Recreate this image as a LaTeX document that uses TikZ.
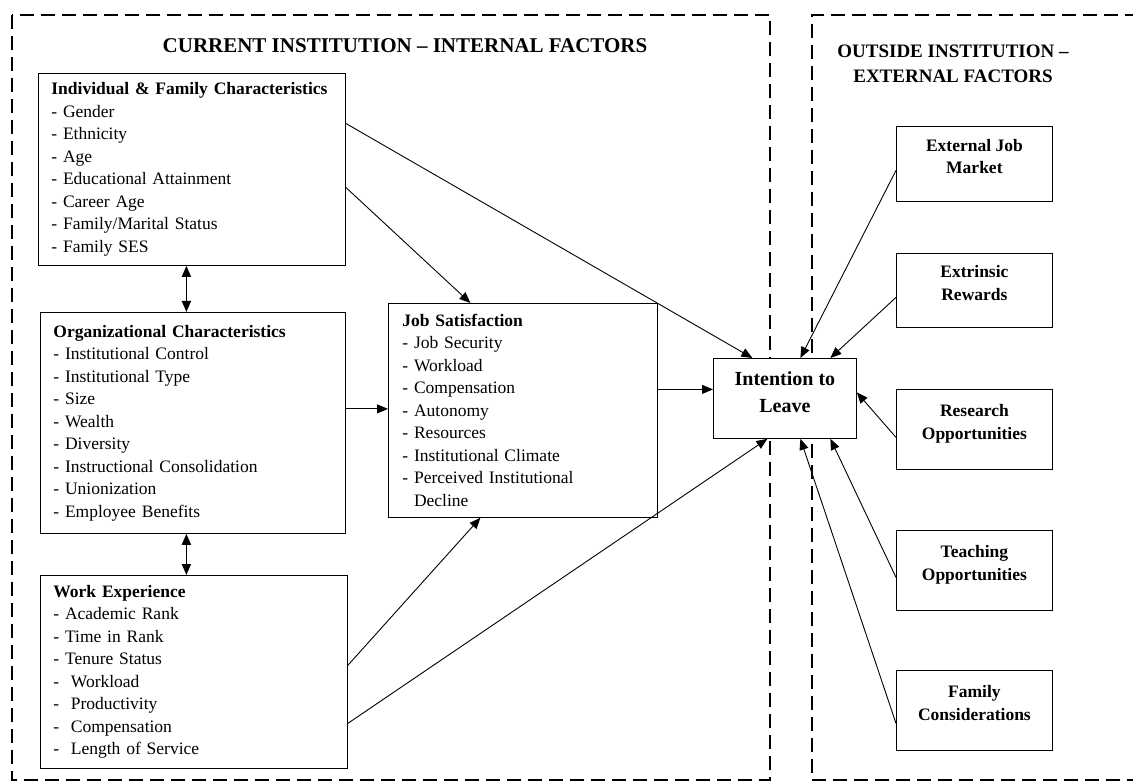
\documentclass[tikz,border=0pt]{standalone}
\usepackage{fontspec}
\setmainfont{Liberation Serif}
\usetikzlibrary{arrows.meta,calc}
\begin{document}
\begin{tikzpicture}[x=1pt,y=-1pt,
  box/.style={draw, line width=0.8pt, inner sep=0pt, font=\fontsize{17.5}{22.5}\selectfont},
  lbox/.style={box, align=left, inner xsep=13pt, anchor=north west},
  ebox/.style={box, align=center, minimum width=156pt, anchor=north west, text depth=15pt, font=\fontsize{17.5}{22.5}\selectfont\bfseries},
  arr/.style={-{Triangle[length=11pt,width=9pt]}, line width=0.9pt},
  darr/.style={{Triangle[length=11pt,width=9pt]}-{Triangle[length=11pt,width=9pt]}, line width=1.8pt},
  frame/.style={line width=2.2pt, dash pattern=on 14pt off 7pt},
  ttl/.style={font=\fontsize{19}{25}\selectfont\bfseries, align=center}]
\useasboundingbox (0,0) rectangle (1133,783);
\fill[white] (0,0) rectangle (1133,783);

% frames
\draw[frame] (12,15) rectangle (770,780);
\draw[frame] (1160,15) -- (812,15) -- (812,780) -- (1160,780);

% titles
\node[ttl, font=\fontsize{21}{25}\selectfont\bfseries] (t1) at (405,46) {CURRENT INSTITUTION \textendash{} INTERNAL FACTORS};
\node[ttl] (t2) at (953,64) {OUTSIDE INSTITUTION \textendash\\EXTERNAL FACTORS};

% left boxes
\node[lbox, text width=281pt, minimum height=192pt] (ind) at (38,73) {\textbf{Individual \& Family Characteristics}\\
- Gender\\- Ethnicity\\- Age\\- Educational Attainment\\- Career Age\\- Family/Marital Status\\- Family SES};
\node[lbox, text width=279pt, minimum height=221pt] (org) at (40,312) {\textbf{Organizational Characteristics}\\
- Institutional Control\\- Institutional Type\\- Size\\- Wealth\\- Diversity\\- Instructional Consolidation\\- Unionization\\- Employee Benefits};
\node[lbox, text width=281pt, minimum height=193pt] (work) at (40,575) {\textbf{Work Experience}\\
- Academic Rank\\- Time in Rank\\- Tenure Status\\-\ \ Workload\\-\ \ Productivity\\-\ \ Compensation\\-\ \ Length of Service};
\node[lbox, inner xsep=14pt, text width=241pt, minimum height=214pt] (js) at (388,303) {\textbf{Job Satisfaction}\\
- Job Security\\- Workload\\- Compensation\\- Autonomy\\- Resources\\- Institutional Climate\\- Perceived Institutional\\\phantom{- }Decline};

% intention
\node[box, fill=white, align=center, anchor=north west, minimum width=143pt, minimum height=80pt,
  text depth=12pt, font=\fontsize{20}{27}\selectfont\bfseries] (int) at (713,358) {Intention to\\Leave};

% external boxes
\node[ebox, minimum height=75pt] (ejm) at (896,126) {External Job\\Market};
\node[ebox, minimum height=74pt] (er) at (896,253) {Extrinsic\\Rewards};
\node[ebox, minimum height=80pt] (ro) at (896,389) {Research\\Opportunities};
\node[ebox, minimum height=80pt] (to) at (896,530) {Teaching\\Opportunities};
\node[ebox, minimum height=80pt] (fc) at (896,670) {Family\\Considerations};

% double arrows
\draw[darr] ([xshift=-5.5pt]ind.south) -- ([xshift=-5.5pt]ind.south |- org.north);
\draw[darr] ([xshift=-6.5pt]org.south) -- ([xshift=-6.5pt]org.south |- work.north);

% internal arrows
\draw[arr] ([yshift=46pt]ind.east) -- ([xshift=-32.5pt]int.north);
\draw[arr] ([yshift=-18pt]ind.east) -- ([xshift=-52.5pt]js.north);
\draw[arr] ([yshift=14pt]org.east) -- ([yshift=14pt]org.east -| js.west);
\draw[arr] ([yshift=6.5pt]work.east) -- ([xshift=-42.5pt]js.south);
\draw[arr] ([yshift=-51.5pt]work.east) -- ([xshift=-17.5pt]int.south);
\draw[arr] ([yshift=9pt]int.west -| js.east) -- ([yshift=9pt]int.west);

% external arrows
\draw[arr] ([yshift=-6.5pt]ejm.west) -- ([xshift=15.5pt]int.north);
\draw[arr] ([yshift=-7pt]er.west) -- ([xshift=45.5pt]int.north);
\draw[arr] ([yshift=-8pt]ro.west) -- ([yshift=6pt]int.east);
\draw[arr] ([yshift=-7pt]to.west) -- ([xshift=45.5pt]int.south);
\draw[arr] ([yshift=-13pt]fc.west) -- ([xshift=15.5pt]int.south);
\end{tikzpicture}
\end{document}
